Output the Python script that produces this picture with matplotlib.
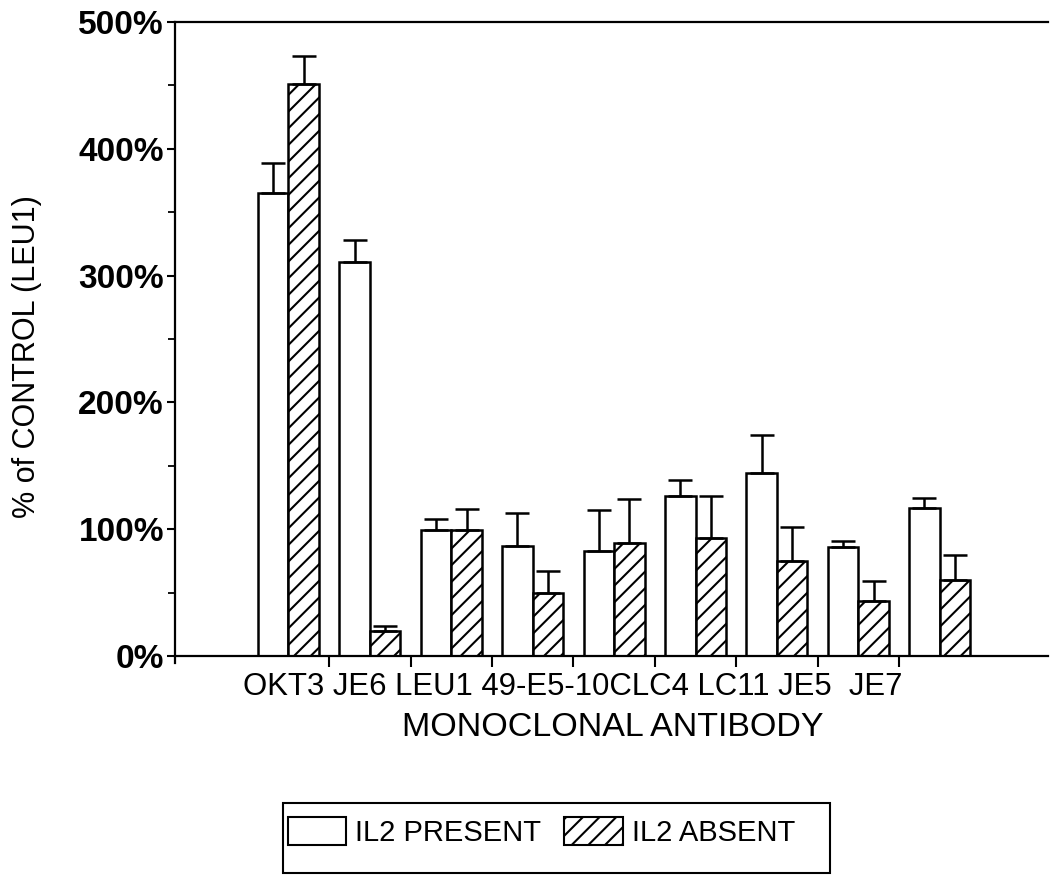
import numpy as np
import matplotlib
matplotlib.use("Agg")
import matplotlib.pyplot as plt
from matplotlib.patches import Patch, Rectangle
from matplotlib.ticker import MultipleLocator, FuncFormatter

# ---- data -------------------------------------------------------------
groups = ["OKT3", "JE6", "LEU1", "49-E5", "10C", "LC4", "LC11", "JE5", "JE7"]
il2_present = [365, 311, 99, 87, 83, 126, 144, 86, 117]
il2_present_err = [24, 17, 9, 26, 32, 13, 30, 5, 8]
il2_absent = [451, 20, 99, 50, 89, 93, 75, 43, 60]
il2_absent_err = [22, 4, 17, 17, 35, 33, 27, 16, 20]

antibody_labels = ["OKT3", "JE6", "LEU1", "49-E5-10C", "LC4", "LC11", "JE5", "JE7"]
label_separators = [" ", " ", " ", "", " ", " ", "  "]
series_labels = ["IL2 PRESENT", "IL2 ABSENT"]

# ---- style ------------------------------------------------------------
plt.rcParams["font.family"] = ["Liberation Sans", "DejaVu Sans"]
plt.rcParams["hatch.linewidth"] = 1.5
W, H = 1051, 877
fig = plt.figure(figsize=(W / 100, H / 100), dpi=100)
ax = fig.add_axes([175 / W, (H - 656) / H, (1048 - 175) / W, (656 - 22) / H])

x = np.arange(len(groups))
bw = 0.375
edge_lw = 1.8

ax.bar(x - bw / 2, il2_present, width=bw, facecolor="white",
       edgecolor="black", linewidth=edge_lw, zorder=2)
ax.bar(x + bw / 2, il2_absent, width=bw, facecolor="white",
       edgecolor="black", linewidth=edge_lw, hatch="//", zorder=2)

err_kw = dict(fmt="none", ecolor="black", elinewidth=1.8, capsize=8.5,
              capthick=1.8, zorder=3)
ax.errorbar(x - bw / 2, il2_present,
            yerr=[np.zeros(len(x)), il2_present_err], **err_kw)
ax.errorbar(x + bw / 2, il2_absent,
            yerr=[np.zeros(len(x)), il2_absent_err], **err_kw)

# ---- axes -------------------------------------------------------------
ax.set_xlim(-1.394, 9.33)
ax.set_ylim(0, 500)
ax.spines["right"].set_visible(False)
for side in ("left", "bottom", "top"):
    ax.spines[side].set_linewidth(1.6)
ax.spines["left"].set_bounds(-5.5, 500)

ax.set_xticks(x[:-1] + 0.5)
ax.set_xticklabels([])
ax.tick_params(axis="x", direction="out", length=8, width=1.5)

ax.yaxis.set_major_locator(MultipleLocator(100))
ax.yaxis.set_minor_locator(MultipleLocator(50))
ax.yaxis.set_major_formatter(FuncFormatter(lambda v, p: f"{v:.0f}%"))
ax.tick_params(axis="y", which="major", direction="out", length=6,
               width=1.5, pad=2, labelsize=24)
ax.tick_params(axis="y", which="minor", direction="out", length=5, width=1.3)
for lab in ax.get_yticklabels():
    lab.set_fontweight("bold")

# ---- category text row and axis titles ------------------------------------
row = antibody_labels[0]
for sep, lab in zip(label_separators, antibody_labels[1:]):
    row += sep + lab
fig.text(243 / W, 1 - 687 / H, row, ha="left", va="center", fontsize=22.4)
fig.text(613 / W, 1 - 727 / H, "MONOCLONAL ANTIBODY", ha="center",
         va="center", fontsize=24.5)
fig.text(27 / W, 1 - 357 / H, "% of CONTROL (LEU1)", ha="center",
         va="center", rotation=90, fontsize=22)

# ---- legend ---------------------------------------------------------------
fig.patches.append(Rectangle((283 / W, 4 / H), 547 / W, 70 / H,
                             transform=fig.transFigure, facecolor="none",
                             edgecolor="black", linewidth=1.5))
handles = [Patch(facecolor="white", edgecolor="black", linewidth=1.5),
           Patch(facecolor="white", edgecolor="black", linewidth=1.5,
                 hatch="//")]
fig.legend(handles, series_labels, loc="center left",
           bbox_to_anchor=(288 / W, 1 - 832 / H), ncol=2, frameon=False,
           fontsize=21, borderpad=0, handlelength=2.0, handleheight=1.1,
           handletextpad=0.3, columnspacing=0.8, borderaxespad=0)

fig.savefig("out.png", dpi=100)
